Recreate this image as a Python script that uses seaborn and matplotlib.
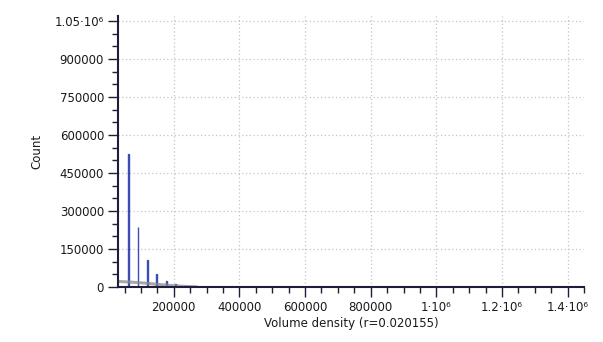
import matplotlib
matplotlib.use("Agg")
import matplotlib.pyplot as plt
from matplotlib.ticker import FixedLocator, MultipleLocator
import seaborn as sns
import pandas as pd

# Histogram bins of volume density (bin centre) and their counts
bin_centers = [61000, 91000, 120000, 148000, 178000, 206000, 236000]
bin_counts = [525000, 238000, 107000, 52000, 24000, 10000, 3000]

# Smoothed reference curve drawn along the base
curve_x = [30000, 60000, 90000, 120000, 150000, 180000, 210000, 240000, 270000]
curve_y = [22000, 20000, 17500, 14500, 10500, 7000, 4000, 2000, 500]

x_ticks = [200000, 400000, 600000, 800000, 1000000, 1200000, 1400000]
x_tick_labels = ["200000", "400000", "600000", "800000", "1·10⁶", "1.2·10⁶", "1.4·10⁶"]
y_ticks = [0, 150000, 300000, 450000, 600000, 750000, 900000, 1050000]
y_tick_labels = ["0", "150000", "300000", "450000", "600000", "750000", "900000", "1.05·10⁶"]

x_label = "Volume density (r=0.020155)"
y_label = "Count"

sns.set_theme(style="white")
plt.rcParams["font.family"] = ["DejaVu Sans"]

fig = plt.figure(figsize=(6.03, 3.42), dpi=100)
ax = fig.add_axes([118 / 603, 1 - 287 / 342, (584 - 118) / 603, (287 - 16) / 342])

bars = pd.DataFrame({"density": bin_centers, "count": bin_counts})
curve = pd.DataFrame({"density": curve_x, "count": curve_y})

sns.barplot(data=bars, x="density", y="count", native_scale=True, width=0.08,
            color="#3b4db3", saturation=1, errorbar=None, ax=ax, zorder=3,
            edgecolor="#3b4db3", linewidth=1.0)
sns.lineplot(data=curve, x="density", y="count", color="#8a8a8a", linewidth=2.2,
             alpha=0.75, ax=ax, zorder=4)

ax.set_xlim(30000, 1450000)
ax.set_ylim(0, 1070000)

ax.xaxis.set_major_locator(FixedLocator(x_ticks))
ax.set_xticklabels(x_tick_labels)
ax.xaxis.set_minor_locator(MultipleLocator(50000))
ax.yaxis.set_major_locator(FixedLocator(y_ticks))
ax.set_yticklabels(y_tick_labels)
ax.yaxis.set_minor_locator(MultipleLocator(50000))

ax.tick_params(axis="both", which="major", direction="out", length=7, width=1.0,
               color="#1e1e3c", labelsize=8.5, labelcolor="#1a1a1a", pad=3,
               bottom=True, left=True)
ax.tick_params(axis="both", which="minor", direction="out", length=4, width=1.0,
               color="#1e1e3c", bottom=True, left=True)

ax.grid(True, which="major", color="#c4c4c4", linestyle=(0, (1, 2)), linewidth=0.9)
ax.set_axisbelow(True)

for side in ("top", "right"):
    ax.spines[side].set_visible(False)
for side in ("left", "bottom"):
    ax.spines[side].set_color("#1e1e3c")
    ax.spines[side].set_linewidth(1.5)
    ax.spines[side].set_zorder(5)

ax.set_xlabel(x_label, fontsize=8.5, color="#1a1a1a", labelpad=2)
ax.set_ylabel(y_label, fontsize=8.5, color="#1a1a1a", labelpad=8)

fig.savefig("out.png", dpi=100, facecolor="white")
